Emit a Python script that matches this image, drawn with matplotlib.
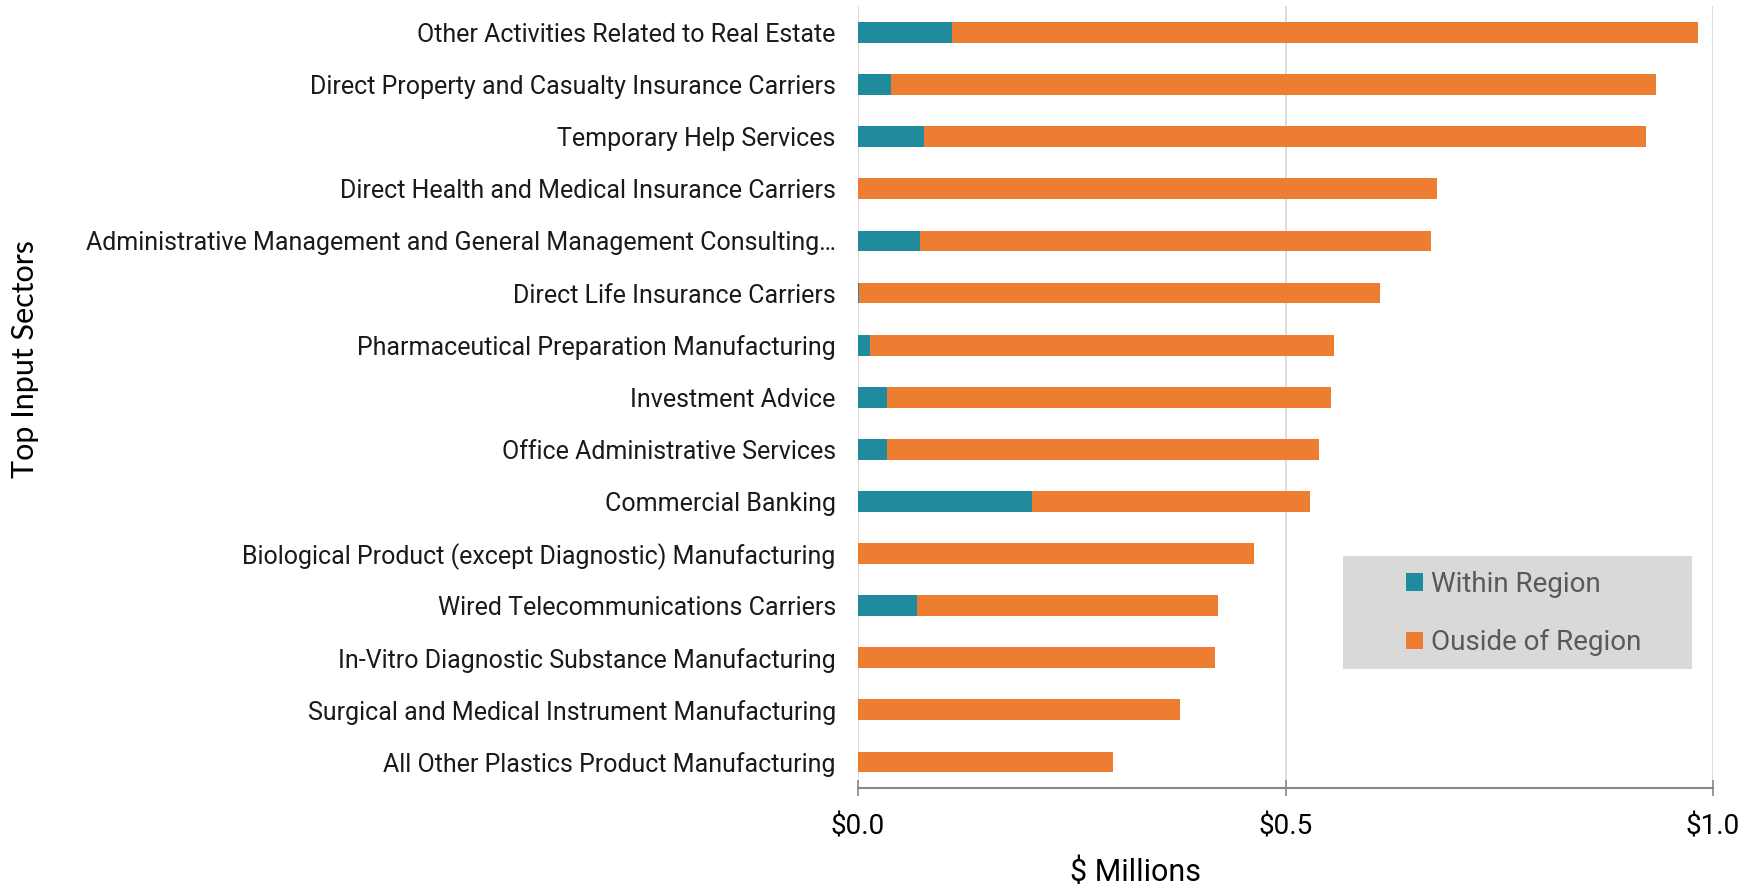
import matplotlib
matplotlib.use('Agg')
import matplotlib.pyplot as plt
from matplotlib.patches import Rectangle, Patch
import numpy as np

# Data ($ millions)
sectors = [
    'Other Activities Related to Real Estate',
    'Direct Property and Casualty Insurance Carriers',
    'Temporary Help Services',
    'Direct Health and Medical Insurance Carriers',
    'Administrative Management and General Management Consulting\u2026',
    'Direct Life Insurance Carriers',
    'Pharmaceutical Preparation Manufacturing',
    'Investment Advice',
    'Office Administrative Services',
    'Commercial Banking',
    'Biological Product (except Diagnostic) Manufacturing',
    'Wired Telecommunications Carriers',
    'In-Vitro Diagnostic Substance Manufacturing',
    'Surgical and Medical Instrument Manufacturing',
    'All Other Plastics Product Manufacturing',
]
within = [0.110, 0.039, 0.077, 0.0, 0.073, 0.001, 0.014, 0.034, 0.034, 0.203, 0.0, 0.069, 0.0, 0.0, 0.0]
total = [0.982, 0.933, 0.922, 0.677, 0.670, 0.611, 0.557, 0.553, 0.539, 0.529, 0.463, 0.421, 0.418, 0.376, 0.298]
outside = [t - w for t, w in zip(total, within)]

teal = '#218B9E'
orange = '#ED7D31'
font = 'Roboto'

fig = plt.figure(figsize=(17.59, 8.85), dpi=100)
ax = fig.add_axes([0.4878, 0.1096, 0.4861, 0.8831])

y = np.arange(len(sectors))
ax.barh(y, within, height=0.4, color=teal, zorder=3)
ax.barh(y, outside, left=within, height=0.4, color=orange, zorder=3)

ax.set_ylim(len(sectors) - 0.5, -0.5)
ax.set_xlim(0, 1.0)
ax.set_xticks([0, 0.5, 1.0])
ax.set_xticklabels(['$0.0', '$0.5', '$1.0'], fontsize=20, family=font)
ax.set_yticks(y)
ax.set_yticklabels(sectors, fontsize=18, family=font, color='#1a1a1a')
ax.tick_params(axis='y', length=0, pad=16)
ax.tick_params(axis='x', direction='inout', length=12, width=1.2, color='#888888', pad=12)

ax.grid(axis='x', color='#d9d9d9', linewidth=1.3, zorder=0)
for s in ['top', 'right', 'left']:
    ax.spines[s].set_visible(False)
ax.spines['bottom'].set_color('#888888')
ax.spines['bottom'].set_linewidth(1.5)

ax.set_xlabel('$ Millions', fontsize=22, family=font)
ax.xaxis.set_label_coords(0.325, -0.089)
fig.text(0.0142, 0.594, 'Top Input Sectors', rotation=90, fontsize=22,
         family='Lato', ha='center', va='center')

# legend box
ax.add_patch(Rectangle((0.567, 0.152), 0.408, 0.145, transform=ax.transAxes,
                       facecolor='#d9d9d9', edgecolor='none', zorder=4))
handles = [Patch(facecolor=teal, label='Within Region'),
           Patch(facecolor=orange, label='Ouside of Region')]
leg = ax.legend(handles=handles, loc='upper left', bbox_to_anchor=(0.641, 0.278),
                frameon=False, prop={'family': font, 'size': 20},
                handlelength=0.6, handleheight=0.6, handletextpad=0.3,
                labelspacing=1.13, borderpad=0, borderaxespad=0)
leg.set_zorder(5)
for t in leg.get_texts():
    t.set_color('#595959')

fig.savefig('out.png', dpi=100)
